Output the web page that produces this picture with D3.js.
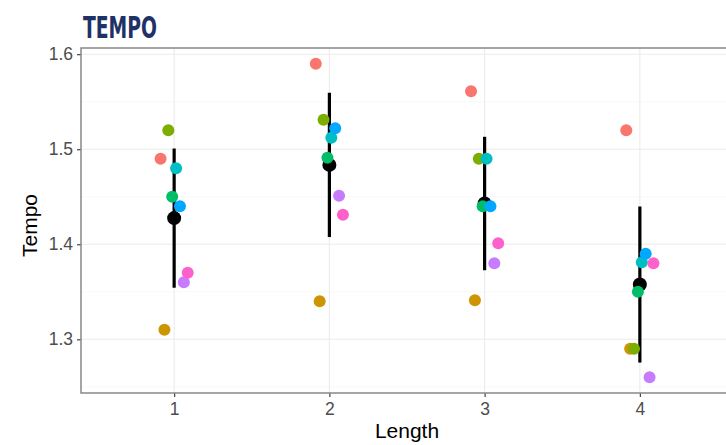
<!DOCTYPE html>
<html>
<head>
<meta charset="utf-8">
<script src="https://cdn.jsdelivr.net/npm/d3@7"></script>
<style>
  html, body { margin: 0; padding: 0; background: #fff; }
  svg { display: block; }
</style>
</head>
<body>
<svg id="svg" width="726" height="445"></svg>
<script>
'use strict';

// Chart data
const lengths = [1, 2, 3, 4];
const groupColors = ['#F8766D', '#CD9600', '#7CAE00', '#00BE67', '#00BFC4', '#00A9FF', '#C77CFF', '#FF61CC'];
const red = [1.49, 1.59, 1.561, 1.52];
const mustard = [1.31, 1.34, 1.341, 1.29];
const olive = [1.52, 1.531, 1.49, 1.29];
const green = [1.45, 1.491, 1.44, 1.35];
const cyan = [1.48, 1.512, 1.49, 1.381];
const blue = [1.44, 1.522, 1.44, 1.39];
const purple = [1.36, 1.451, 1.38, 1.26];
const pink = [1.37, 1.431, 1.401, 1.38];
const series = [red, mustard, olive, green, cyan, blue, purple, pink];
const yTicks = [1.3, 1.4, 1.5, 1.6];
const yMinor = [1.25, 1.35, 1.45, 1.55];

const svg = d3.select('#svg');
const panelLeft = 81, panelRight = 733, panelTop = 48, panelBottom = 393;
const FONT = '"Liberation Sans", Arial, sans-serif';

// Means and mean +/- sd per length
const summary = lengths.map((len, i) => {
  const vals = series.map(s => s[i]);
  const m = d3.mean(vals);
  const sd = d3.deviation(vals);
  return { len, mean: m, lo: m - sd, hi: m + sd };
});

const allVals = series.flat().concat(summary.map(d => d.lo), summary.map(d => d.hi));
const [ymin, ymax] = d3.extent(allVals);
const pad = (ymax - ymin) * 0.05;

const x = d3.scaleLinear().domain([0.4, 4.6]).range([panelLeft, panelRight]);
const y = d3.scaleLinear().domain([ymin - pad, ymax + pad]).range([panelBottom, panelTop]);
const dodge = 0.025;

// Title
svg.append('text')
  .attr('x', 83).attr('y', 38)
  .attr('textLength', 74).attr('lengthAdjust', 'spacingAndGlyphs')
  .style('font-family', '"Liberation Sans Narrow", "DejaVu Sans Condensed", sans-serif')
  .style('font-weight', 'bold').style('font-size', '31px')
  .attr('fill', '#1f3266')
  .text('TEMPO');

// Grid
const grid = svg.append('g');
grid.selectAll('.minor').data(yMinor).join('line')
  .attr('x1', panelLeft).attr('x2', panelRight)
  .attr('y1', d => y(d)).attr('y2', d => y(d))
  .attr('stroke', '#f3f3f3').attr('stroke-width', 0.6);
grid.selectAll('.major').data(yTicks).join('line')
  .attr('x1', panelLeft).attr('x2', panelRight)
  .attr('y1', d => y(d)).attr('y2', d => y(d))
  .attr('stroke', '#ebebeb').attr('stroke-width', 1.1);
grid.selectAll('.vx').data(lengths).join('line')
  .attr('x1', d => x(d)).attr('x2', d => x(d))
  .attr('y1', panelTop).attr('y2', panelBottom)
  .attr('stroke', '#ebebeb').attr('stroke-width', 1.1);

// Axes
const yAxis = svg.append('g')
  .attr('transform', `translate(${panelLeft},0)`)
  .call(d3.axisLeft(y).tickValues(yTicks).tickFormat(d3.format('.1f')).tickSize(4).tickPadding(4));
const xAxis = svg.append('g')
  .attr('transform', `translate(0,${panelBottom})`)
  .call(d3.axisBottom(x).tickValues(lengths).tickFormat(d3.format('d')).tickSize(4).tickPadding(6));
[yAxis, xAxis].forEach(a => {
  a.select('.domain').remove();
  a.selectAll('.tick line').attr('stroke', '#444').attr('stroke-width', 1.2);
  a.selectAll('.tick text')
    .attr('fill', '#4d4d4d')
    .style('font-family', FONT)
    .style('font-size', '17.5px');
});

// Error bars and means
const stats = svg.append('g');
stats.selectAll('line').data(summary).join('line')
  .attr('x1', d => x(d.len)).attr('x2', d => x(d.len))
  .attr('y1', d => y(d.lo)).attr('y2', d => y(d.hi))
  .attr('stroke', '#000').attr('stroke-width', 3.2);
stats.selectAll('circle').data(summary).join('circle')
  .attr('cx', d => x(d.len)).attr('cy', d => y(d.mean))
  .attr('r', 7).attr('fill', '#000');

// Group points, dodged
const pts = [];
series.forEach((s, g) => s.forEach((v, i) => pts.push({ g, len: lengths[i], v })));
svg.append('g').selectAll('circle').data(pts).join('circle')
  .attr('cx', d => x(d.len + (d.g - 3.5) * dodge))
  .attr('cy', d => y(d.v))
  .attr('r', 6)
  .attr('fill', d => groupColors[d.g]);

// Panel border
svg.append('rect')
  .attr('x', panelLeft).attr('y', panelTop)
  .attr('width', panelRight - panelLeft).attr('height', panelBottom - panelTop)
  .attr('fill', 'none').attr('stroke', '#888').attr('stroke-width', 1.5);

// Axis titles
svg.append('text')
  .attr('x', (panelLeft + panelRight) / 2).attr('y', 438)
  .attr('text-anchor', 'middle')
  .style('font-family', FONT).style('font-size', '21px')
  .attr('fill', '#000').text('Length');
svg.append('text')
  .attr('transform', `translate(37,${(panelTop + panelBottom) / 2 + 5}) rotate(-90)`)
  .attr('text-anchor', 'middle')
  .style('font-family', FONT).style('font-size', '21px')
  .attr('fill', '#000').text('Tempo');
</script>
</body>
</html>
